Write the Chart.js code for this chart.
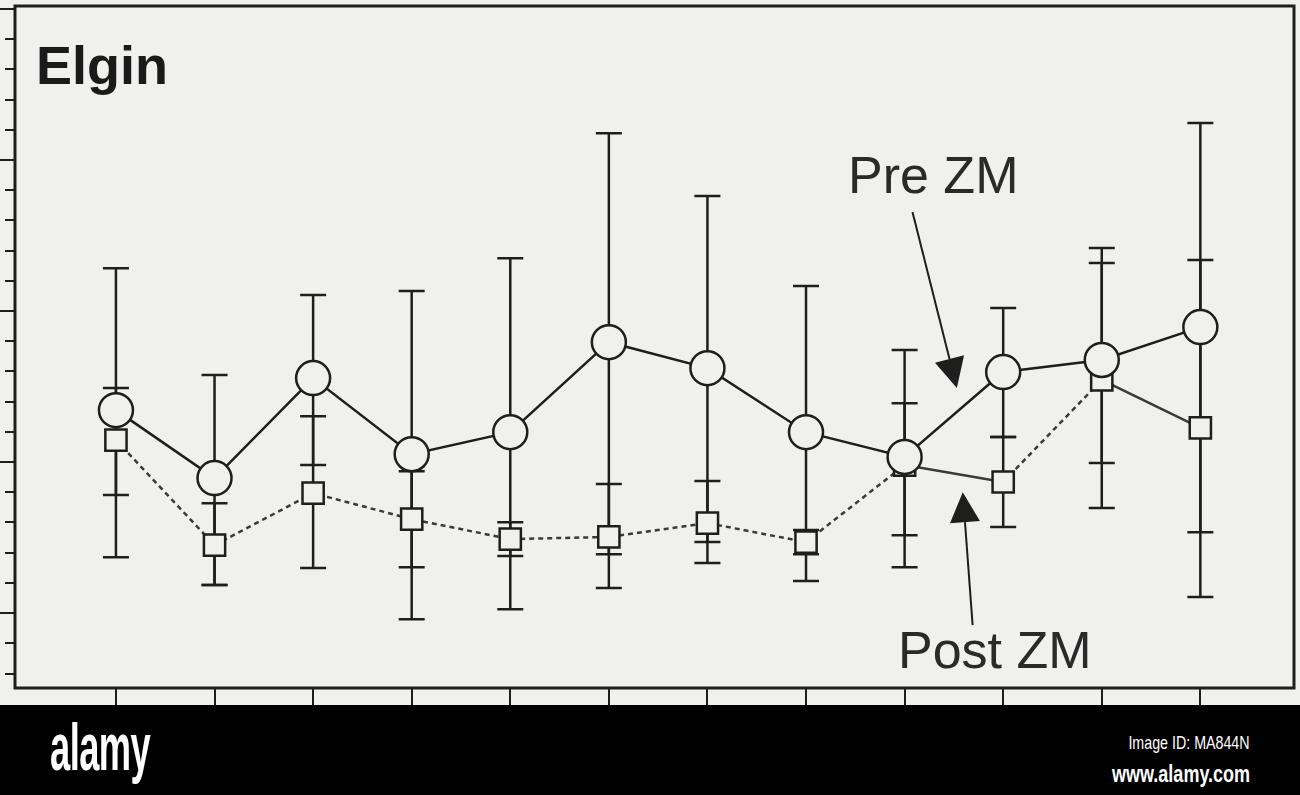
<html>
<head>
<script src="https://cdn.jsdelivr.net/npm/chart.js@4.4.0/dist/chart.umd.min.js"></script>
<style>
    body { margin: 0; background: #f0f0ee; width: 1300px; height: 795px; overflow: hidden; position: relative; font-family: 'Liberation Sans', Arial, sans-serif; }
    #wrap { position: absolute; left: 0; top: 0; width: 1300px; height: 705px; }
    .lbl { position: absolute; color: #222; white-space: nowrap; line-height: 1; }
    #banner { position: absolute; left: 0; top: 705px; width: 1300px; height: 90px; background: #000; color: #fff; }
    #logo { position: absolute; left: 50px; top: 4px; font-size: 66px; font-weight: bold; transform: scaleX(0.55); transform-origin: left top; letter-spacing: -1px; }
    .idtxt { position: absolute; right: 50px; transform: scaleX(0.75); transform-origin: right top; white-space: nowrap; }
</style>
</head>
<body>
<div id="wrap"><canvas id="myChart" width="1300" height="705"></canvas></div>

<div class="lbl" style="left:36px; top:38px; font-size:54px; font-weight:bold; color:#1a1a1a;">Elgin</div>
<div class="lbl" style="left:848px; top:149px; font-size:52px; color:#2a2a2a;">Pre ZM</div>
<div class="lbl" style="left:898px; top:624px; font-size:52px; color:#2a2a2a;">Post ZM</div>

<div id="banner">
    <div id="logo">alamy</div>
    <div class="idtxt" style="top:27px; font-size:19px;">Image ID: MA844N</div>
    <div class="idtxt" style="top:55px; font-size:24px; font-weight:bold;">www.alamy.com</div>
</div>

<script>
    // sample stations along the x axis (no labels printed on the original)
    var stations = [1, 2, 3, 4, 5, 6, 7, 8, 9, 10, 11, 12];

    // Pre ZM: mean and error bar ends
    var preMean = [6.72, 4.47, 7.78, 5.26, 5.99, 8.97, 8.11, 5.99, 5.17, 7.98, 8.38, 9.47];
    var preHigh = [11.42, 7.88, 10.53, 10.66, 11.75, 15.89, 13.81, 10.83, 8.71, 10.10, 12.09, 16.23];
    var preLow  = [1.85, 0.93, 4.90, -0.20, 0.13, 1.95, 2.35, 1.06, 1.52, 5.83, 4.97, 2.68];

    // Post ZM: mean and error bar ends
    var postMean = [5.73, 2.25, 3.97, 3.11, 2.45, 2.52, 2.98, 2.35, 4.90, 4.34, 7.72, 6.13];
    var postHigh = [7.45, 3.64, 6.52, 4.70, 3.01, 4.27, 4.37, 2.75, 6.95, 5.83, 11.59, 11.69];
    var postLow  = [3.91, 0.93, 1.49, 1.52, 1.89, 0.83, 1.66, 1.95, 2.58, 2.85, 3.48, 0.53];

    var ink = '#1e1e1e';

    function toPoints(values) {
        return values.map(function (v, i) { return { x: i, y: v }; });
    }

    // error bars drawn under the markers
    var errorBars = {
        id: 'errorBars',
        beforeDatasetsDraw: function (chart) {
            var ctx = chart.ctx, x = chart.scales.x, y = chart.scales.y;
            var cap = 13;
            ctx.save();
            ctx.strokeStyle = ink;
            ctx.lineWidth = 2.5;
            [[preLow, preHigh], [postLow, postHigh]].forEach(function (pair) {
                for (var i = 0; i < stations.length; i++) {
                    var px = x.getPixelForValue(i);
                    var y1 = y.getPixelForValue(pair[0][i]);
                    var y2 = y.getPixelForValue(pair[1][i]);
                    ctx.beginPath();
                    ctx.moveTo(px, y1); ctx.lineTo(px, y2);
                    ctx.moveTo(px - cap, y1); ctx.lineTo(px + cap, y1);
                    ctx.moveTo(px - cap, y2); ctx.lineTo(px + cap, y2);
                    ctx.stroke();
                }
            });
            ctx.restore();
        }
    };

    // box around the plot + longer major ticks on the y axis
    var frame = {
        id: 'frame',
        afterDraw: function (chart) {
            var ctx = chart.ctx, a = chart.chartArea, y = chart.scales.y;
            ctx.save();
            ctx.strokeStyle = ink;
            ctx.lineWidth = 3;
            ctx.strokeRect(a.left, a.top, a.right - a.left, a.bottom - a.top);
            ctx.lineWidth = 2;
            ctx.beginPath();
            for (var v = 0; v <= 20; v += 5) {
                var py = y.getPixelForValue(v);
                ctx.moveTo(a.left - 15, py);
                ctx.lineTo(a.left, py);
            }
            ctx.stroke();
            ctx.restore();
        }
    };

    // the two label arrows, placed in data units
    var arrows = {
        id: 'arrows',
        afterDatasetsDraw: function (chart) {
            var ctx = chart.ctx, x = chart.scales.x, y = chart.scales.y;
            var list = [
                { from: [8.08, 13.28], to: [8.53, 7.45] },
                { from: [8.69, -0.40], to: [8.59, 4.00] }
            ];
            ctx.save();
            ctx.strokeStyle = ink;
            ctx.fillStyle = ink;
            ctx.lineWidth = 2;
            list.forEach(function (ar) {
                var x1 = x.getPixelForValue(ar.from[0]), y1 = y.getPixelForValue(ar.from[1]);
                var x2 = x.getPixelForValue(ar.to[0]), y2 = y.getPixelForValue(ar.to[1]);
                var ang = Math.atan2(y2 - y1, x2 - x1);
                var len = 30, half = 15;
                var bx = x2 - len * Math.cos(ang), by = y2 - len * Math.sin(ang);
                ctx.beginPath();
                ctx.moveTo(x1, y1); ctx.lineTo(bx, by);
                ctx.stroke();
                ctx.beginPath();
                ctx.moveTo(x2, y2);
                ctx.lineTo(bx + half * Math.sin(ang), by - half * Math.cos(ang));
                ctx.lineTo(bx - half * Math.sin(ang), by + half * Math.cos(ang));
                ctx.closePath();
                ctx.fill();
            });
            ctx.restore();
        }
    };

    var paintingCanvas = document.getElementById('myChart').getContext('2d');
    var chart = new Chart(paintingCanvas, {
        type: 'line',
        data: {
            datasets: [
                {
                    label: 'Pre ZM',
                    data: toPoints(preMean),
                    borderColor: ink,
                    borderWidth: 2.5,
                    pointStyle: 'circle',
                    pointRadius: 17,
                    pointBorderWidth: 2.5,
                    pointBorderColor: ink,
                    pointBackgroundColor: '#f0f0ee',
                    order: 1
                },
                {
                    label: 'Post ZM',
                    data: toPoints(postMean),
                    borderColor: '#3a3a3a',
                    borderWidth: 2.5,
                    borderDash: [5, 4],
                    segment: {
                        borderDash: function (c) { return (c.p0DataIndex === 8 || c.p0DataIndex === 10) ? [] : [5, 4]; }
                    },
                    pointStyle: 'rect',
                    pointRadius: 15,
                    pointBorderWidth: 2.5,
                    pointBorderColor: ink,
                    pointBackgroundColor: '#f0f0ee',
                    order: 2
                }
            ]
        },
        options: {
            responsive: false,
            animation: false,
            events: [],
            layout: { autoPadding: false, padding: { left: 5, top: 6, right: 6, bottom: 0 } },
            plugins: { legend: { display: false }, tooltip: { enabled: false } },
            scales: {
                x: {
                    type: 'linear',
                    min: -1.024,
                    max: 11.95,
                    afterBuildTicks: function (s) { s.ticks = stations.map(function (v, i) { return { value: i }; }); },
                    ticks: { display: false },
                    border: { display: false },
                    grid: { drawOnChartArea: false, tickLength: 17, color: ink, lineWidth: 2 }
                },
                y: {
                    min: -2.48,
                    max: 20.1,
                    afterBuildTicks: function (s) {
                        var t = [];
                        for (var v = -2; v <= 20; v++) t.push({ value: v });
                        s.ticks = t;
                    },
                    ticks: { display: false },
                    border: { display: false },
                    grid: { drawOnChartArea: false, tickLength: 10, color: ink, lineWidth: 2 }
                }
            }
        },
        plugins: [errorBars, arrows, frame]
    });
</script>
</body>
</html>
